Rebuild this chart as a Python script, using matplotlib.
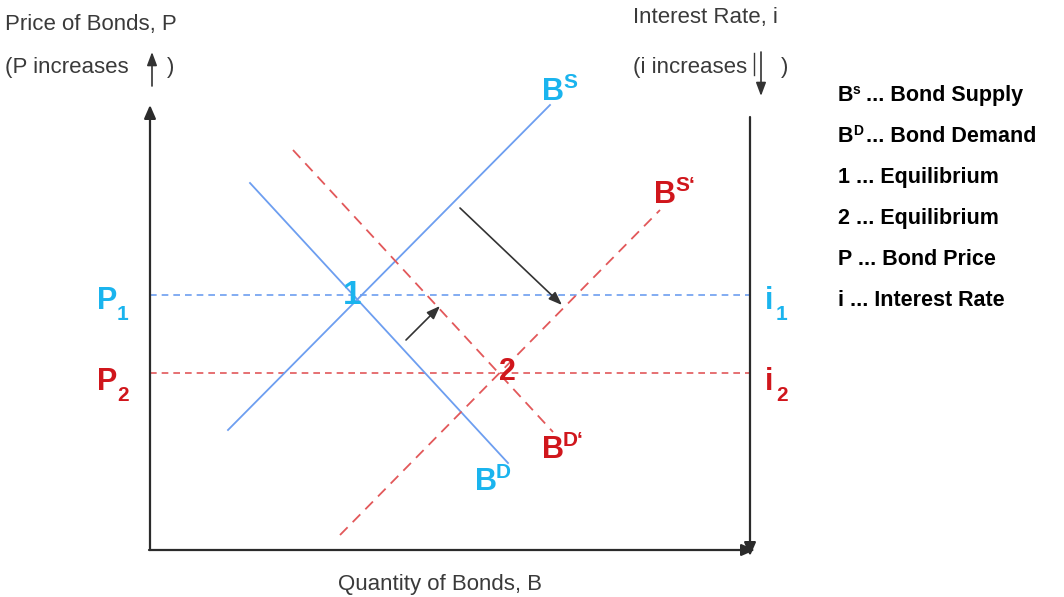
import matplotlib
matplotlib.use("Agg")
import matplotlib.pyplot as plt

plt.rcParams["font.family"] = ["Liberation Sans", "DejaVu Sans"]

# diagram coordinates (pixel-like units, y grows downward)
BS_X, BS_Y = [228, 550], [430, 105]          # bond supply
BD_X, BD_Y = [250, 508], [183, 463]          # bond demand
BS2_X, BS2_Y = [340, 660], [535, 210]        # shifted supply
BD2_X, BD2_Y = [293, 553], [150, 432]        # shifted demand
P1_Y, P2_Y = 295, 373                        # price levels
AX_LEFT, AX_RIGHT, AX_BOTTOM = 150, 750, 550
SHIFT_ARROWS = [((460, 208), (562, 305)), ((406, 340), (440, 306))]
LEGEND_MAIN = ["B", "B", "1 ... Equilibrium", "2 ... Equilibrium",
               "P ... Bond Price", "i ... Interest Rate"]
LEGEND_SUP = ["s", "D", "", "", "", ""]
LEGEND_REST = ["... Bond Supply", "... Bond Demand", "", "", "", ""]

CYAN = "#1ab4ee"
BLUE = "#6d9ef0"
RED = "#d0161c"
RED_LINE = "#e2585a"
AXC = "#2b2b2b"
TXT = "#3a3a3a"

fig = plt.figure(figsize=(10.64, 5.97), dpi=100)
ax = fig.add_axes([0, 0, 1, 1])
ax.set_xlim(0, 1064)
ax.set_ylim(597, 0)
ax.axis("off")

arr = dict(arrowstyle="-|>,head_length=0.8,head_width=0.35", color=AXC, lw=1.6,
           shrinkA=0, shrinkB=0)
ax.annotate("", xy=(AX_LEFT, 105), xytext=(AX_LEFT, AX_BOTTOM), arrowprops=arr)
ax.annotate("", xy=(755, AX_BOTTOM), xytext=(AX_LEFT - 1, AX_BOTTOM), arrowprops=arr)
ax.annotate("", xy=(AX_RIGHT, 556), xytext=(AX_RIGHT, 117), arrowprops=arr)

# price / rate levels
ax.plot([AX_LEFT, AX_RIGHT], [P1_Y, P1_Y], color=BLUE, lw=1.2, ls=(0, (4, 3)))
ax.plot([AX_LEFT, AX_RIGHT], [P2_Y, P2_Y], color=RED_LINE, lw=1.2, ls=(0, (4, 3)))

# curves
ax.plot(BS_X, BS_Y, color=BLUE, lw=1.3)
ax.plot(BD_X, BD_Y, color=BLUE, lw=1.3)
ax.plot(BS2_X, BS2_Y, color=RED_LINE, lw=1.3, ls=(0, (6, 4)))
ax.plot(BD2_X, BD2_Y, color=RED_LINE, lw=1.3, ls=(0, (6, 4)))

sarr = dict(arrowstyle="-|>,head_length=0.8,head_width=0.3", color="#333333",
            lw=1.2, shrinkA=0, shrinkB=0)
for start, end in SHIFT_ARROWS:
    ax.annotate("", xy=end, xytext=start, arrowprops=sarr)


def label(x, y, base, small, color, dx, dy, size=22, ssize=15):
    ax.text(x, y, base, color=color, fontsize=size, fontweight="bold",
            ha="left", va="baseline")
    ax.text(x + dx, y + dy, small, color=color, fontsize=ssize,
            fontweight="bold", ha="left", va="baseline")


label(542, 100, "B", "S", CYAN, 21, -12)
label(654, 203, "B", "S\u2018", RED, 21, -12)
label(542, 458, "B", "D\u2018", RED, 21, -12)
label(475, 490, "B", "D", CYAN, 21, -12)
label(97, 309, "P", "1", CYAN, 20, 11)
label(97, 390, "P", "2", RED, 20, 11)
label(765, 309, "i", "1", CYAN, 11, 11)
label(765, 390, "i", "2", RED, 11, 11)
ax.text(352, 304, "1", color=CYAN, fontsize=24, fontweight="bold", ha="center", va="baseline")
ax.text(507, 380, "2", color=RED, fontsize=22, fontweight="bold", ha="center", va="baseline")

# axis titles
ax.text(5, 30, "Price of Bonds, P", color=TXT, fontsize=16, va="baseline")
ax.text(5, 73, "(P increases", color=TXT, fontsize=16, va="baseline")
ax.text(167, 73, ")", color=TXT, fontsize=16, va="baseline")
ax.annotate("", xy=(152, 52), xytext=(152, 86), arrowprops=sarr)
ax.text(633, 23, "Interest Rate, i", color=TXT, fontsize=16, va="baseline")
ax.text(633, 73, "(i increases", color=TXT, fontsize=16, va="baseline")
ax.text(781, 73, ")", color=TXT, fontsize=16, va="baseline")
ax.plot([754, 754], [53, 75], color=TXT, lw=1)
ax.annotate("", xy=(761, 96), xytext=(761, 52), arrowprops=sarr)
ax.text(440, 590, "Quantity of Bonds, B", color=TXT, fontsize=16, ha="center", va="baseline")

# legend
for k, (main, sup, rest) in enumerate(zip(LEGEND_MAIN, LEGEND_SUP, LEGEND_REST)):
    y = 101 + 41 * k
    ax.text(838, y, main, fontsize=15.5, fontweight="bold", va="baseline")
    if sup:
        ax.text(853, y - 7, sup, fontsize=10, fontweight="bold", va="baseline")
        ax.text(866, y, rest, fontsize=15.5, fontweight="bold", va="baseline")

fig.savefig("out.png", dpi=100, facecolor="white")
